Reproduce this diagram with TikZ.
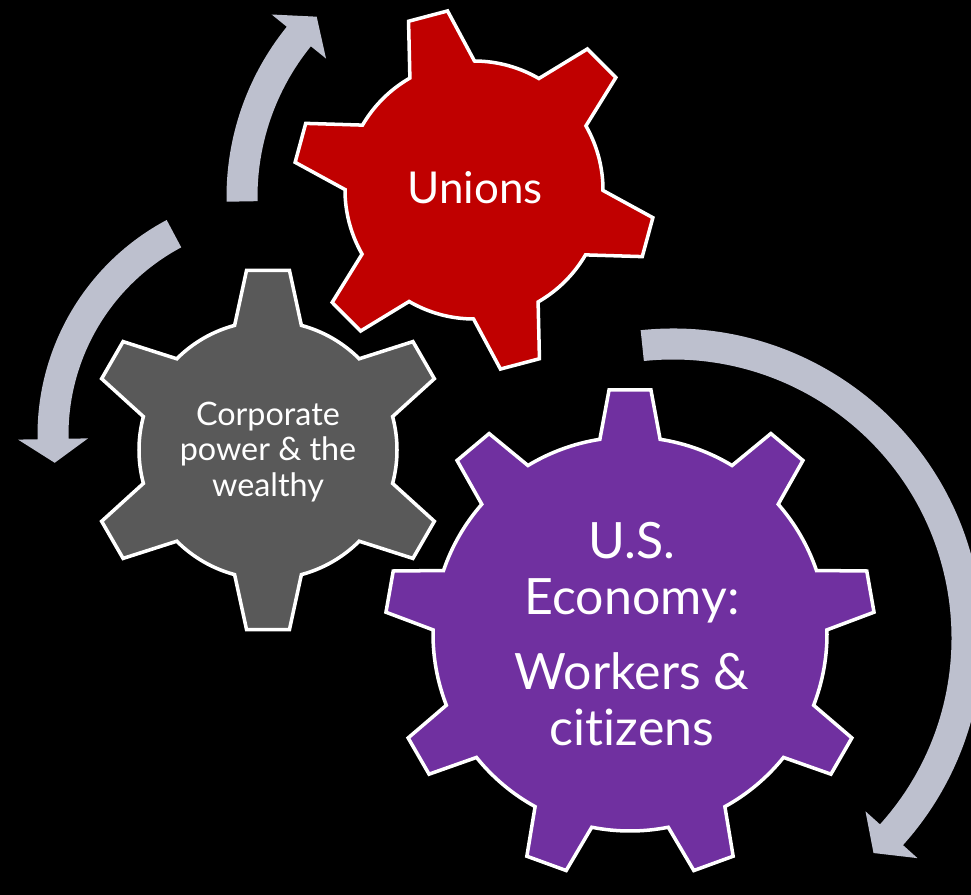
\documentclass[tikz,border=0pt]{standalone}
\usepackage{fontspec}
\setmainfont{Lato}[Ligatures=NoCommon]
\usetikzlibrary{calc}

\definecolor{unionred}{RGB}{192,0,0}
\definecolor{corpgray}{RGB}{89,89,89}
\definecolor{econpurple}{RGB}{112,48,160}
\definecolor{arrowblue}{RGB}{189,192,206}

% gear: (centre)(teeth:first tooth angle:body radius:tip radius:half angle at base:half angle at tip)
\def\gear[#1](#2)(#3:#4:#5:#6:#7:#8){%
	\filldraw[#1, shift={(#2)}] (#4-#7:#5)
	\foreach \k [evaluate=\k as \t using #4+(\k-1)*360/#3] in {1,...,#3} {
		-- (\t-#8:#6) -- (\t+#8:#6) -- (\t+#7:#5)
		arc[start angle=\t+#7, end angle=\t+360/#3-#7, radius=#5]
	} -- cycle;}

% curved arrow: (centre)(radius:tail angle:head angle:tip angle)
\def\circarrow(#1)(#2:#3:#4:#5){%
	\fill[arrowblue, shift={(#1)}] (#3:{#2+15.5}) arc[start angle=#3, end angle=#4, radius=#2+15.5]
	-- (#4:{#2+35}) -- (#5:#2) -- (#4:{#2-35}) -- (#4:{#2-15.5})
	arc[start angle=#4, end angle=#3, radius=#2-15.5] -- cycle;}

\tikzset{
	gearline/.style={draw=white, line width=2pt, line join=miter},
	gearlabel/.style={text=white, align=center, inner sep=0pt}
}

\begin{document}
\begin{tikzpicture}[x=0.02cm, y=0.02cm]
		%%%%% START %%%%%
		
		\fill[black] (0,0) rectangle (971,-895);
		\useasboundingbox (0,0) rectangle (971,-895);
		
		% arrows round the gears
		\circarrow(497,-197)(255:181:141:135);
		\circarrow(281,-435)(228:118:181:187);
		\circarrow(673,-638)(294:96:-42:-47);
		
		% gears
		\gear[gearline, fill=unionred](474,-190)(6:104.8:129:181:15:6.4);
		\gear[gearline, fill=corpgray](268,-450)(6:90:129:181:15:6.8);
		\gear[gearline, fill=econpurple](630,-634)(9:90:197:245:8.8:4.9);
		
		\node[gearlabel, font=\fontsize{25}{30}\selectfont] (unions) at (475,-188) {Unions};
		\node[gearlabel, font=\fontsize{18.4}{20.4}\selectfont] (corporate) at (268,-452) {Corporate\\power \& the\\wealthy};
		\node[gearlabel, font=\fontsize{28.5}{32.3}\selectfont] (economy) at (632,-634) {U.S.\\Economy:\\[10pt]Workers \&\\citizens};
		
		%%%%% END %%%%%
	\end{tikzpicture}
\end{document}
